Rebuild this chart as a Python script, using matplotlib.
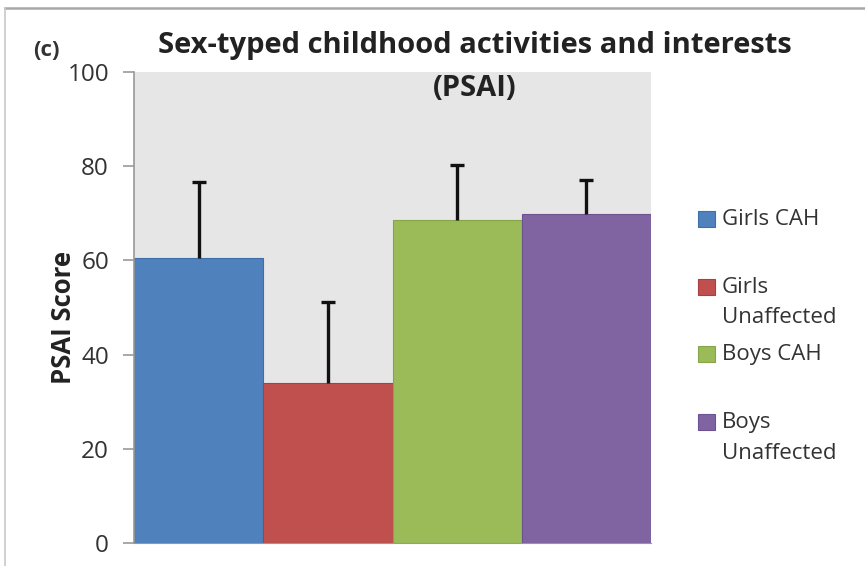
import numpy as np
import matplotlib
matplotlib.use("Agg")
import matplotlib.pyplot as plt
from matplotlib.lines import Line2D
from matplotlib.patches import Rectangle

groups = ["Girls CAH", "Girls\nUnaffected", "Boys CAH", "Boys\nUnaffected"]
means = [60.6, 33.9, 68.6, 69.9]
sds = [16.0, 17.3, 11.7, 7.2]
colors = ["#4f81bd", "#c0504d", "#9bbb59", "#8064a2"]
edges = ["#3f6fa8", "#a8403d", "#86a448", "#6c5290"]
yticks = [0, 20, 40, 60, 80, 100]

plt.rcParams["font.family"] = ["Open Sans", "DejaVu Sans"]

W, H = 865, 566
fig = plt.figure(figsize=(W / 100, H / 100), dpi=100)

# axes box in pixel terms
left, right, top, bottom = 134, 651, 72, 543
ax = fig.add_axes([left / W, 1 - bottom / H, (right - left) / W, (bottom - top) / H])
ax.set_facecolor("#e6e6e6")

x = np.arange(len(means))
tops = np.array(means) + np.array(sds)
ax.bar(x, means, width=1.0, color=colors, edgecolor=edges, linewidth=0.8, zorder=2)
# upper error bars only
ax.vlines(x, means, tops, color="#111111", linewidth=2.4, zorder=3)
ax.plot(x, tops, linestyle="none", marker="_", markersize=9.5,
        markeredgewidth=2.4, color="#111111", zorder=3)

ax.set_xlim(-0.5, 3.5)
ax.set_ylim(0, 100)
ax.set_xticks([])
ax.set_yticks(yticks)
ax.set_yticklabels([str(v) for v in yticks], fontsize=17.5, color="#333333")
ax.tick_params(axis="y", length=8, width=1.2, color="#999999", pad=10)
for s in ["top", "right"]:
    ax.spines[s].set_visible(False)
ax.spines["left"].set_color("#999999")
ax.spines["left"].set_linewidth(1.2)
ax.spines["bottom"].set_color("#999999")

ax.set_ylabel("PSAI Score", fontsize=18.5, fontweight="bold", color="#222222", va="center")
ax.yaxis.set_label_coords(-0.137, 0.478)

fig.text(475 / W, 1 - 45 / H, "Sex-typed childhood activities and interests",
         ha="center", va="center", fontsize=21, fontweight="bold", color="#222222")
fig.text(475 / W, 1 - 88 / H, "(PSAI)", ha="center", va="center",
         fontsize=21, fontweight="bold", color="#222222")
fig.text(46 / W, 1 - 50 / H, "(c)", ha="center", va="center",
         fontsize=16, fontweight="bold", color="#333333")

# legend, one square per group with the label beside it
for i, (lab, c, ec) in enumerate(zip(groups, colors, edges)):
    yc = 219 + i * 67.7
    fig.add_artist(Rectangle((698 / W, 1 - (yc + 8) / H), 17 / W, 16 / H,
                             facecolor=c, edgecolor=ec, linewidth=0.8,
                             transform=fig.transFigure))
    fig.text(722 / W, 1 - (yc - 10) / H, lab, ha="left", va="top",
             fontsize=16, color="#333333", linespacing=1.6)

# frame lines along the top and left of the image
fig.add_artist(Line2D([5 / W, 1], [1 - 8 / H, 1 - 8 / H], color="#a8a8a8",
                      linewidth=1.8, transform=fig.transFigure))
fig.add_artist(Line2D([5 / W, 5 / W], [0, 1 - 8 / H], color="#c8c8c8",
                      linewidth=1.2, transform=fig.transFigure))

fig.savefig("out.png", dpi=100)
